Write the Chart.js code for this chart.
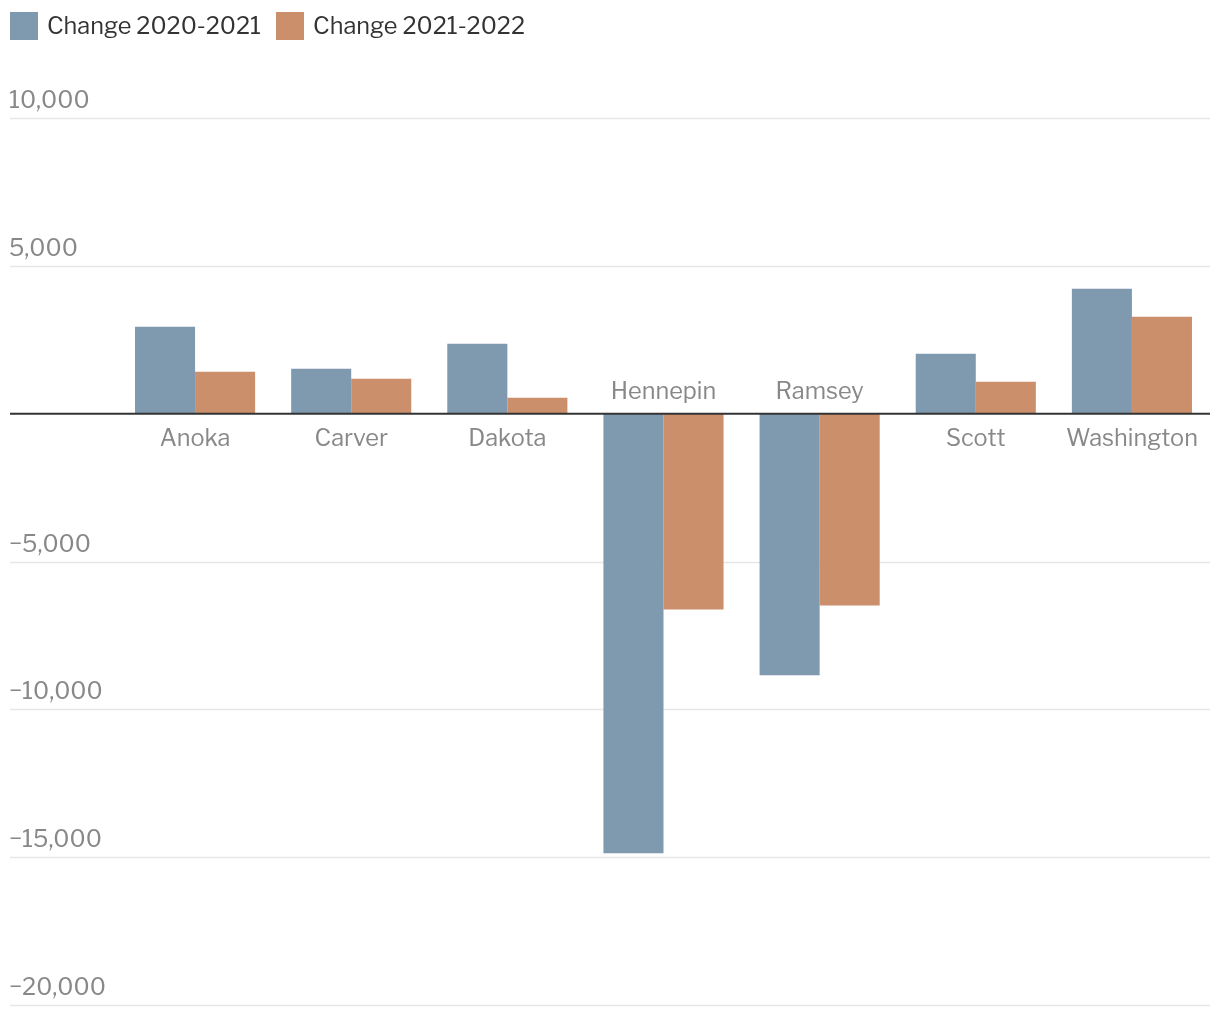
<!DOCTYPE html>
<html>
<head>
<meta charset="utf-8">
<script src="https://cdn.jsdelivr.net/npm/chart.js@4.4.1/dist/chart.umd.min.js"></script>
<style>
  html, body { margin: 0; padding: 0; background: #fff; }
  #wrap { position: relative; width: 1220px; height: 1020px; }
  #legend { position: absolute; left: 10px; top: 11px; display: flex; align-items: center;
    font-family: 'Libre Franklin', Roboto, sans-serif; font-size: 23.5px; color: #333; }
  .item { display: flex; align-items: center; margin-right: 15px; }
  .swatch { width: 28px; height: 28px; margin-right: 9px; }
</style>
</head>
<body>
<div id="wrap">
  <canvas id="chart" width="1220" height="1020"></canvas>
  <div id="legend"></div>
</div>
<script>
const counties = ['Anoka', 'Carver', 'Dakota', 'Hennepin', 'Ramsey', 'Scott', 'Washington'];
const change2021 = [2940, 1520, 2365, -14865, -8850, 2030, 4225];
const change2022 = [1420, 1180, 540, -6620, -6490, 1080, 3275];
const seriesNames = ['Change 2020-2021', 'Change 2021-2022'];
const seriesColors = ['#7f99ae', '#cb8f6c'];
const yTicks = [10000, 5000, 0, -5000, -10000, -15000, -20000];

const FONT = "'Libre Franklin', Roboto, sans-serif";

function fmt(v) {
  const s = Math.abs(v).toLocaleString('en-US');
  return v < 0 ? '\u2212' + s : s;
}

// legend as plain html
const legendEl = document.getElementById('legend');
seriesNames.forEach((name, i) => {
  const item = document.createElement('div');
  item.className = 'item';
  item.innerHTML = '<div class="swatch" style="background:' + seriesColors[i] + '"></div><span>' + name + '</span>';
  legendEl.appendChild(item);
});

const gridPlugin = {
  id: 'gridPlugin',
  beforeDatasetsDraw(chart) {
    const ctx = chart.ctx;
    const y = chart.scales.y;
    ctx.save();
    ctx.font = '23.5px ' + FONT;
    ctx.fillStyle = '#888';
    ctx.textBaseline = 'alphabetic';
    ctx.textAlign = 'left';
    yTicks.forEach((t) => {
      const py = Math.round(y.getPixelForValue(t)) + 0.5;
      if (t !== 0) {
        ctx.strokeStyle = '#e6e6e6';
        ctx.lineWidth = 1.5;
        ctx.beginPath();
        ctx.moveTo(10, py);
        ctx.lineTo(1210, py);
        ctx.stroke();
        ctx.fillText(fmt(t), 9, py - 11);
      }
    });
    ctx.restore();
  },
  afterDatasetsDraw(chart) {
    const ctx = chart.ctx;
    const x = chart.scales.x;
    const y = chart.scales.y;
    const zero = y.getPixelForValue(0);
    ctx.save();
    ctx.strokeStyle = '#333';
    ctx.lineWidth = 2;
    ctx.beginPath();
    ctx.moveTo(10, zero);
    ctx.lineTo(1210, zero);
    ctx.stroke();
    ctx.font = '23.5px ' + FONT;
    ctx.fillStyle = '#888';
    ctx.textAlign = 'center';
    ctx.textBaseline = 'middle';
    counties.forEach((name, i) => {
      const px = x.getPixelForValue(i);
      const neg = change2021[i] < 0 && change2022[i] < 0;
      ctx.fillText(name, px, neg ? zero - 22 : zero + 25);
    });
    ctx.restore();
  }
};

new Chart(document.getElementById('chart'), {
  type: 'bar',
  data: {
    labels: counties,
    datasets: [
      { label: seriesNames[0], data: change2021, backgroundColor: seriesColors[0] },
      { label: seriesNames[1], data: change2022, backgroundColor: seriesColors[1] }
    ]
  },
  options: {
    responsive: false,
    animation: false,
    layout: { padding: { left: 117, right: 10, top: 118, bottom: 15 } },
    datasets: { bar: { categoryPercentage: 120 / 156, barPercentage: 1, borderWidth: 0 } },
    plugins: { legend: { display: false }, tooltip: { enabled: false } },
    scales: {
      x: { display: false, offset: true },
      y: { display: false, min: -20000, max: 10000 }
    }
  },
  plugins: [gridPlugin]
});
</script>
</body>
</html>
